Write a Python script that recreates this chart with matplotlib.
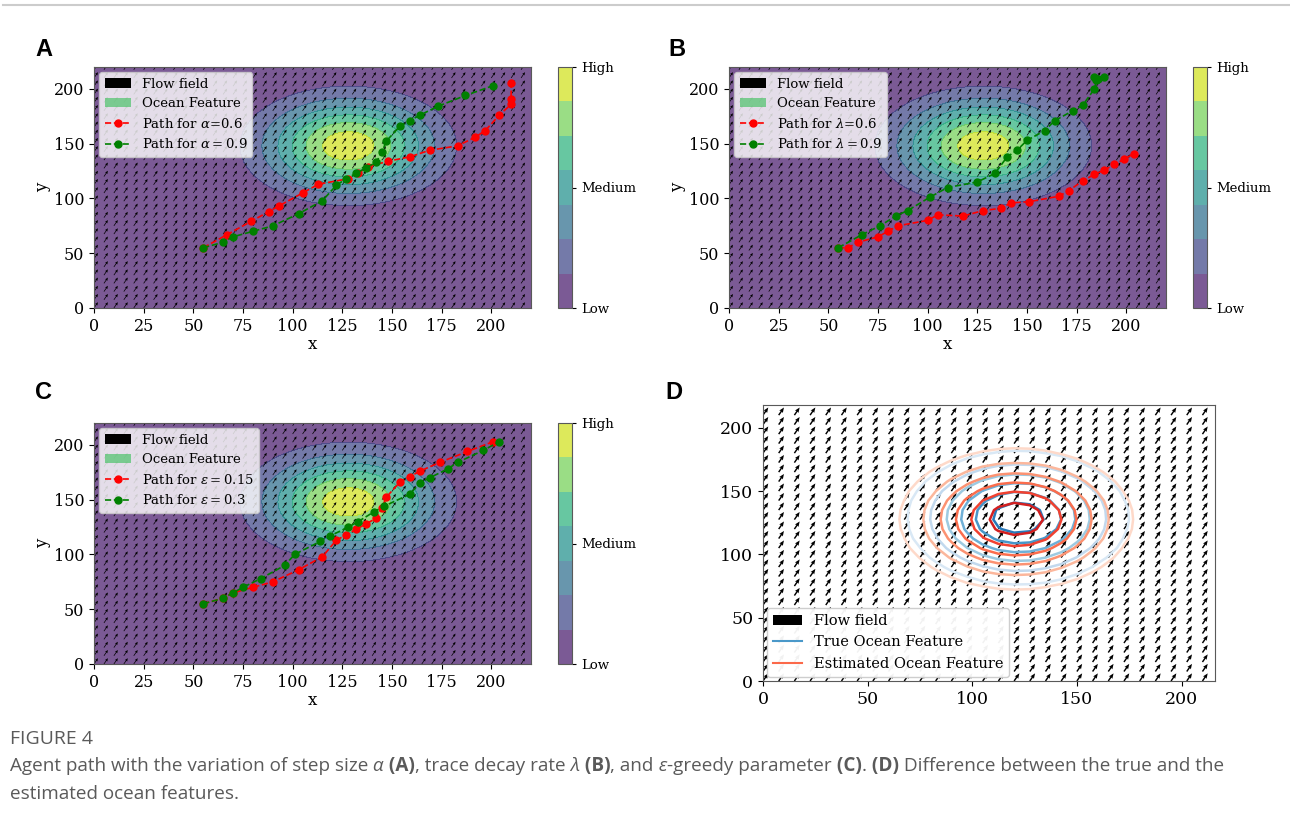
import numpy as np
import matplotlib
matplotlib.use("Agg")
import matplotlib.pyplot as plt
from matplotlib.patches import Patch
from matplotlib.lines import Line2D

plt.rcParams.update({"font.family": "serif", "font.serif": ["DejaVu Serif"],
                     "mathtext.fontset": "dejavuserif"})

# ---- paths (x, y in grid units) ----
A_RED_X = [55, 67, 79, 88, 93, 105, 113, 128, 133, 138, 148, 159, 169, 183, 192, 197, 204, 210, 210, 210]
A_RED_Y = [55, 67, 79, 88, 93, 105, 113, 118, 123, 129, 134, 138, 144, 148, 156, 162, 176, 186, 191, 205]
A_GRN_X = [55, 65, 70, 80, 90, 103, 115, 122, 127, 132, 137, 142, 145, 147, 154, 159, 164, 173, 187, 201]
A_GRN_Y = [55, 60, 65, 70, 75, 86, 98, 112, 118, 123, 128, 133, 142, 152, 166, 171, 176, 184, 194, 203]

B_RED_X = [55, 60, 65, 75, 80, 85, 100, 105, 118, 128, 137, 142, 151, 166, 171, 178, 184, 189, 194, 199, 204]
B_RED_Y = [55, 55, 60, 65, 70, 75, 80, 85, 84, 89, 91, 96, 97, 102, 107, 116, 122, 126, 131, 136, 141]
B_GRN_X = [55, 67, 76, 84, 90, 101, 110, 125, 134, 140, 145, 150, 159, 164, 173, 178, 184, 185, 184, 186, 189]
B_GRN_Y = [55, 67, 75, 84, 89, 101, 110, 115, 123, 138, 144, 153, 162, 171, 180, 185, 200, 208, 211, 209, 211]

C_RED_X = [55, 65, 70, 80, 90, 103, 115, 122, 127, 132, 137, 142, 145, 147, 154, 159, 164, 174, 188, 201]
C_RED_Y = [55, 60, 65, 70, 75, 86, 98, 113, 118, 123, 128, 133, 142, 152, 166, 171, 176, 184, 194, 203]
C_GRN_X = [55, 65, 70, 75, 84, 96, 101, 114, 119, 128, 133, 141, 146, 159, 164, 169, 178, 183, 196, 204]
C_GRN_Y = [55, 60, 65, 70, 78, 90, 100, 112, 117, 125, 130, 139, 144, 155, 165, 170, 178, 184, 195, 203]

# ocean feature: centre x, centre y, spread
FEATURE_ABC = (128, 148, 28)
FEATURE_TRUE = (122, 129, 27)
FEATURE_EST = (121, 128, 28.5)

# flow field (uniform) and its sampling grids
FLOW_U, FLOW_V = 1.0, 1.45
QX_ABC = np.arange(0, 220, 5)
QY_ABC = np.arange(0, 220, 7.5)
Q_D = np.arange(0, 218, 7.5)
FINE = np.linspace(0, 220, 221)

PANELS = [
    ("A", (A_RED_X, A_RED_Y), (A_GRN_X, A_GRN_Y), r"Path for $\alpha$=0.6", r"Path for $\alpha = 0.9$"),
    ("B", (B_RED_X, B_RED_Y), (B_GRN_X, B_GRN_Y), r"Path for $\lambda$=0.6", r"Path for $\lambda = 0.9$"),
    ("C", (C_RED_X, C_RED_Y), (C_GRN_X, C_GRN_Y), r"Path for $\varepsilon = 0.15$", r"Path for $\varepsilon = 0.3$"),
]

W, H = 1290, 825
fig = plt.figure(figsize=(W / 100, H / 100), dpi=100)


def rect(x0, y0, x1, y1):
    # pixel box (top-left origin) -> figure fraction
    return [x0 / W, 1 - y1 / H, (x1 - x0) / W, (y1 - y0) / H]


def feature(cx, cy, sig, xs, ys):
    X, Y = np.meshgrid(xs, ys)
    return X, Y, np.exp(-((X - cx) ** 2 + (Y - cy) ** 2) / (2 * sig ** 2))


AX_BOX = {"A": (94, 67, 531, 308), "B": (729, 67, 1166, 308), "C": (94, 423, 531, 664)}
CB_BOX = {"A": (558, 67, 572, 308), "B": (1193, 67, 1207, 308), "C": (558, 423, 572, 664)}
ocean_green = plt.cm.viridis(0.72)

for name, red, grn, red_lab, grn_lab in PANELS:
    ax = fig.add_axes(rect(*AX_BOX[name]))
    X, Y, Z = feature(*FEATURE_ABC, FINE, FINE)
    cs = ax.contourf(X, Y, Z, cmap="viridis", alpha=0.72)
    QX, QY = np.meshgrid(QX_ABC, QY_ABC)
    ax.quiver(QX, QY, np.full(QX.shape, FLOW_U), np.full(QX.shape, FLOW_V), color="black",
              scale_units="inches", scale=25, width=0.0016, headwidth=4, headlength=4.5,
              headaxislength=4)
    ax.plot(*red, "--o", color="red", ms=5, lw=1.2, label=red_lab)
    ax.plot(*grn, "--o", color="green", ms=5, lw=1.2, label=grn_lab)
    ax.set_xlim(0, 220); ax.set_ylim(0, 220)
    ax.set_xticks(np.arange(0, 201, 25)); ax.set_yticks(np.arange(0, 201, 50))
    ax.tick_params(labelsize=11.5)
    ax.set_xlabel("x", fontsize=12, labelpad=1); ax.set_ylabel("y", fontsize=12, labelpad=2)
    for s in ax.spines.values():
        s.set_color("0.35")
    h, l = ax.get_legend_handles_labels()
    handles = [Patch(facecolor="black", label="Flow field"),
               Patch(facecolor=ocean_green, alpha=0.7, label="Ocean Feature")] + h
    ax.legend(handles=handles, loc="upper left", fontsize=9.5, borderaxespad=0.4)
    cax = fig.add_axes(rect(*CB_BOX[name]))
    cb = fig.colorbar(cs, cax=cax)
    lv = cs.levels
    cb.set_ticks([lv[0], (lv[0] + lv[-1]) / 2, lv[-1]])
    cb.set_ticklabels(["Low", "Medium", "High"])
    cb.ax.tick_params(labelsize=9.5, length=3)
    cb.outline.set_edgecolor("0.35")

# ---- panel D ----
axd = fig.add_axes(rect(763, 405, 1215, 681))
DX, DY = np.meshgrid(Q_D, Q_D)
axd.quiver(DX, DY, np.full(DX.shape, FLOW_U), np.full(DX.shape, FLOW_V), color="black",
           scale_units="inches", scale=19, width=0.0032, headwidth=3, headlength=3.6,
           headaxislength=3.2)
X, Y, Zt = feature(*FEATURE_TRUE, Q_D, Q_D)
_, _, Ze = feature(*FEATURE_EST, Q_D, Q_D)
lev = [0.15, 0.3, 0.45, 0.6, 0.75, 0.9]
axd.contour(X, Y, Zt, levels=lev, colors=plt.cm.Blues(np.linspace(0.15, 0.72, 6)), linewidths=1.8)
axd.contour(X, Y, Ze, levels=lev, colors=plt.cm.Reds(np.linspace(0.15, 0.72, 6)), linewidths=1.8)
axd.set_xlim(0, 216); axd.set_ylim(0, 218)
axd.set_xticks(np.arange(0, 201, 50)); axd.set_yticks(np.arange(0, 201, 50))
axd.tick_params(labelsize=12.5)
for s in axd.spines.values():
    s.set_color("0.35")
axd.legend(handles=[Patch(facecolor="black", label="Flow field"),
                    Line2D([], [], color=plt.cm.Blues(0.6), lw=1.5, label="True Ocean Feature"),
                    Line2D([], [], color=plt.cm.Reds(0.5), lw=1.5, label="Estimated Ocean Feature")],
           loc="lower left", fontsize=10.5, borderaxespad=0.3, framealpha=0.95)

# ---- panel letters ----
for letter, (px, py) in {"A": (35, 50), "B": (668, 50), "C": (35, 393), "D": (665, 393)}.items():
    fig.text(px / W, 1 - py / H, letter, fontsize=17, fontweight="bold", va="center", ha="left",
             family=["Liberation Sans Narrow", "Liberation Sans", "DejaVu Sans"])

# ---- top rule and caption ----
fig.add_artist(Line2D([3 / W, 1], [1 - 5 / H] * 2, color="0.8", lw=1.5))
GREY = "#5a5a5a"
CAP_FONT = ["Open Sans", "DejaVu Sans"]
fig.text(10 / W, 1 - 739 / H, "FIGURE 4", fontsize=14, color=GREY, va="center", family=CAP_FONT)

renderer = fig.canvas.get_renderer()


def caption_line(runs, py, size):
    x = 10 / W
    for text, style in runs:
        kw = {"fontweight": "bold"} if style == "b" else {}
        if style == "i":
            kw = {"fontstyle": "italic"}
        t = fig.text(x, 1 - py / H, text, fontsize=size, color=GREY, va="center", family=CAP_FONT, **kw)
        x += t.get_window_extent(renderer).width / W


LINE1 = [("Agent path with the variation of step size", "n"), (" α", "i"), (" (A)", "b"),
         (", trace decay rate", "n"), (" λ", "i"), (" (B)", "b"), (", and", "n"), (" ε", "i"),
         ("-greedy parameter", "n"), (" (C)", "b"), (".", "n"), (" (D)", "b"),
         (" Difference between the true and the", "n")]
LINE2 = [("estimated ocean features.", "n")]
caption_line(LINE1, 766, 13.6)
caption_line(LINE2, 794, 13.6)

fig.savefig("out.png", dpi=100)
